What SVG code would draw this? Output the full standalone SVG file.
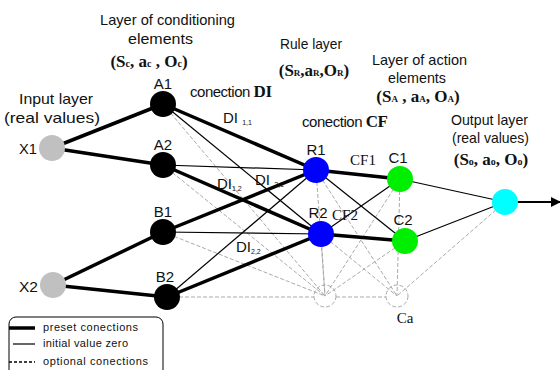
<svg xmlns="http://www.w3.org/2000/svg" width="560" height="370" viewBox="0 0 560 370">
<defs>
<style>
.t{font-family:"Liberation Sans",Arial,sans-serif;font-size:15px;fill:#111}
.s{font-family:"Liberation Serif","Times New Roman",serif;font-size:17px;font-weight:bold;fill:#111}
.r{font-family:"Liberation Serif","Times New Roman",serif;font-size:15px;fill:#111}
.l{font-family:"Liberation Sans",Arial,sans-serif;font-size:11px;fill:#111}
.thick{stroke:#000;stroke-width:3.5;fill:none}
.thin{stroke:#000;stroke-width:1.2;fill:none}
.dash{stroke:#aaa;stroke-width:1;stroke-dasharray:4 2;fill:none}
.blk{fill:#000}
</style>
<marker id="arr" markerWidth="10" markerHeight="10" refX="9" refY="5" orient="auto" markerUnits="userSpaceOnUse"><path d="M0,0 L10,5 L0,10 Z" fill="#000"/></marker>
</defs>
<rect width="560" height="370" fill="#fff"/>
<g id="connectors">
<line class="dash" x1="163" y1="104" x2="325" y2="296"/>
<line class="dash" x1="163" y1="165" x2="325" y2="296"/>
<line class="dash" x1="163" y1="232" x2="325" y2="296"/>
<line class="dash" x1="167" y1="297" x2="314" y2="297"/>
<line class="dash" x1="336" y1="297" x2="386" y2="297"/>
<line class="dash" x1="316" y1="170" x2="397" y2="296"/>
<line class="dash" x1="321" y1="234" x2="397" y2="296"/>
<line class="dash" x1="316" y1="170" x2="325" y2="296"/>
<line class="dash" x1="321" y1="234" x2="325" y2="296"/>
<line class="dash" x1="400" y1="179" x2="325" y2="296"/>
<line class="dash" x1="405" y1="241" x2="325" y2="296"/>
<line class="dash" x1="400" y1="179" x2="397" y2="296"/>
<line class="dash" x1="505" y1="202" x2="397" y2="296"/>
<line class="thick" x1="52" y1="148" x2="163" y2="104"/>
<line class="thick" x1="52" y1="148" x2="163" y2="165"/>
<line class="thick" x1="53" y1="285" x2="163" y2="232"/>
<line class="thick" x1="53" y1="285" x2="167" y2="297"/>
<line class="thick" x1="163" y1="104" x2="316" y2="170"/>
<line class="thick" x1="163" y1="165" x2="321" y2="234"/>
<line class="thick" x1="163" y1="232" x2="316" y2="170"/>
<line class="thick" x1="167" y1="297" x2="321" y2="234"/>
<line class="thick" x1="316" y1="170" x2="400" y2="179"/>
<line class="thick" x1="321" y1="234" x2="405" y2="241"/>
<line class="thin" x1="163" y1="104" x2="321" y2="234"/>
<line class="thin" x1="163" y1="165" x2="316" y2="170"/>
<line class="thin" x1="163" y1="232" x2="321" y2="234"/>
<line class="thin" x1="167" y1="297" x2="316" y2="170"/>
<line class="thin" x1="316" y1="170" x2="405" y2="241"/>
<line class="thin" x1="321" y1="234" x2="400" y2="179"/>
<line class="thin" x1="400" y1="179" x2="505" y2="202"/>
<line class="thin" x1="405" y1="241" x2="505" y2="202"/>
<line stroke="#000" stroke-width="2" x1="505" y1="202" x2="560" y2="202" marker-end="url(#arr)"/>
</g>
<g id="X1"><circle cx="52" cy="148" r="13" fill="#c0c0c0"/><text class="t" x="19" y="154" textLength="18" lengthAdjust="spacingAndGlyphs">X1</text></g>
<g id="X2"><circle cx="53" cy="285" r="13" fill="#c0c0c0"/><text class="t" x="19" y="292" textLength="19" lengthAdjust="spacingAndGlyphs">X2</text></g>
<g id="A1"><circle class="blk" cx="163" cy="104" r="13"/><text class="t" x="163" y="89" text-anchor="middle">A1</text></g>
<g id="A2"><circle class="blk" cx="163" cy="165" r="13"/><text class="t" x="163" y="150" text-anchor="middle">A2</text></g>
<g id="B1"><circle class="blk" cx="163" cy="232" r="13"/><text class="t" x="163" y="217" text-anchor="middle">B1</text></g>
<g id="B2"><circle class="blk" cx="167" cy="297" r="13"/><text class="t" x="165" y="282" text-anchor="middle">B2</text></g>
<g id="R1"><circle cx="316" cy="170" r="13" fill="#0000ff"/><text class="t" x="316" y="155" text-anchor="middle">R1</text></g>
<g id="R2"><circle cx="321" cy="234" r="13" fill="#0000ff"/><text class="t" x="318" y="218" text-anchor="middle">R2</text></g>
<g id="C1"><circle cx="400" cy="179" r="13" fill="#00ee00"/><text class="t" x="398" y="163" text-anchor="middle">C1</text></g>
<g id="C2"><circle cx="405" cy="241" r="13" fill="#00ee00"/><text class="t" x="403" y="225" text-anchor="middle">C2</text></g>
<g id="Out"><circle cx="505" cy="202" r="13" fill="#00ffff"/></g>
<g id="D1"><circle cx="325" cy="296" r="11" fill="#fff" class="dash"/></g>
<g id="D2"><circle cx="397" cy="296" r="11" fill="#fff" class="dash"/><text class="r" x="405" y="323" text-anchor="middle">Ca</text></g>
<g id="labels">
<text class="t" x="100" y="25" textLength="135" lengthAdjust="spacingAndGlyphs">Layer of conditioning</text>
<text class="t" x="128" y="44" textLength="65" lengthAdjust="spacingAndGlyphs">elements</text>
<text class="s" x="149" y="67" text-anchor="middle">(S<tspan font-size="10">c</tspan>, a<tspan font-size="10">c</tspan> , O<tspan font-size="10">c</tspan>)</text>
<text class="t" x="19" y="104" textLength="74" lengthAdjust="spacingAndGlyphs">Input layer</text>
<text class="t" x="4" y="123" textLength="96" lengthAdjust="spacingAndGlyphs">(real values)</text>
<text class="t" x="190" y="97" textLength="82">conection <tspan class="s" font-size="15">DI</tspan></text>
<text class="t" x="223" y="123">DI <tspan font-size="7" dy="2">1,1</tspan></text>
<text class="t" x="217" y="189">DI<tspan font-size="7" dy="2">1,2</tspan></text>
<text class="t" x="255" y="185">DI <tspan font-size="7" dy="2">2,1</tspan></text>
<text class="t" x="236" y="252">DI<tspan font-size="7" dy="2">2,2</tspan></text>
<text class="t" x="280" y="49" textLength="62" lengthAdjust="spacingAndGlyphs">Rule layer</text>
<text class="s" x="314" y="76" text-anchor="middle">(S<tspan font-size="9">R</tspan>,a<tspan font-size="9">R</tspan>,O<tspan font-size="9">R</tspan>)</text>
<text class="t" x="372" y="65" textLength="95" lengthAdjust="spacingAndGlyphs">Layer of action</text>
<text class="t" x="388" y="83" textLength="58" lengthAdjust="spacingAndGlyphs">elements</text>
<text class="s" x="418" y="102" text-anchor="middle">(S<tspan font-size="9">A</tspan> , a<tspan font-size="9">A</tspan>, O<tspan font-size="9">A</tspan>)</text>
<text class="t" x="302" y="127" textLength="86">conection <tspan class="s" font-size="15">CF</tspan></text>
<text class="t" x="451" y="125" textLength="77" lengthAdjust="spacingAndGlyphs">Output layer</text>
<text class="t" x="452" y="143" textLength="77" lengthAdjust="spacingAndGlyphs">(real values)</text>
<text class="s" x="491" y="165" text-anchor="middle">(S<tspan font-size="10">o</tspan>, a<tspan font-size="10">o</tspan>, O<tspan font-size="10">o</tspan>)</text>
<text class="r" x="363" y="165" text-anchor="middle">CF1</text>
<text class="r" x="345" y="220" text-anchor="middle">CF2</text>
</g>
<g id="legend">
<rect x="9" y="317" width="154" height="62" rx="7" fill="#fff" stroke="#000" stroke-width="1"/>
<line x1="9" y1="328" x2="35" y2="328" stroke="#000" stroke-width="3.5"/>
<text class="l" x="43" y="331" textLength="95">preset conections</text>
<line x1="13" y1="344" x2="35" y2="344" stroke="#000" stroke-width="1.2"/>
<text class="l" x="43" y="347" textLength="85">initial value zero</text>
<line x1="9" y1="362" x2="35" y2="362" stroke="#000" stroke-width="1.5" stroke-dasharray="3 2"/>
<text class="l" x="43" y="365" textLength="105">optional conections</text>
</g>
</svg>
